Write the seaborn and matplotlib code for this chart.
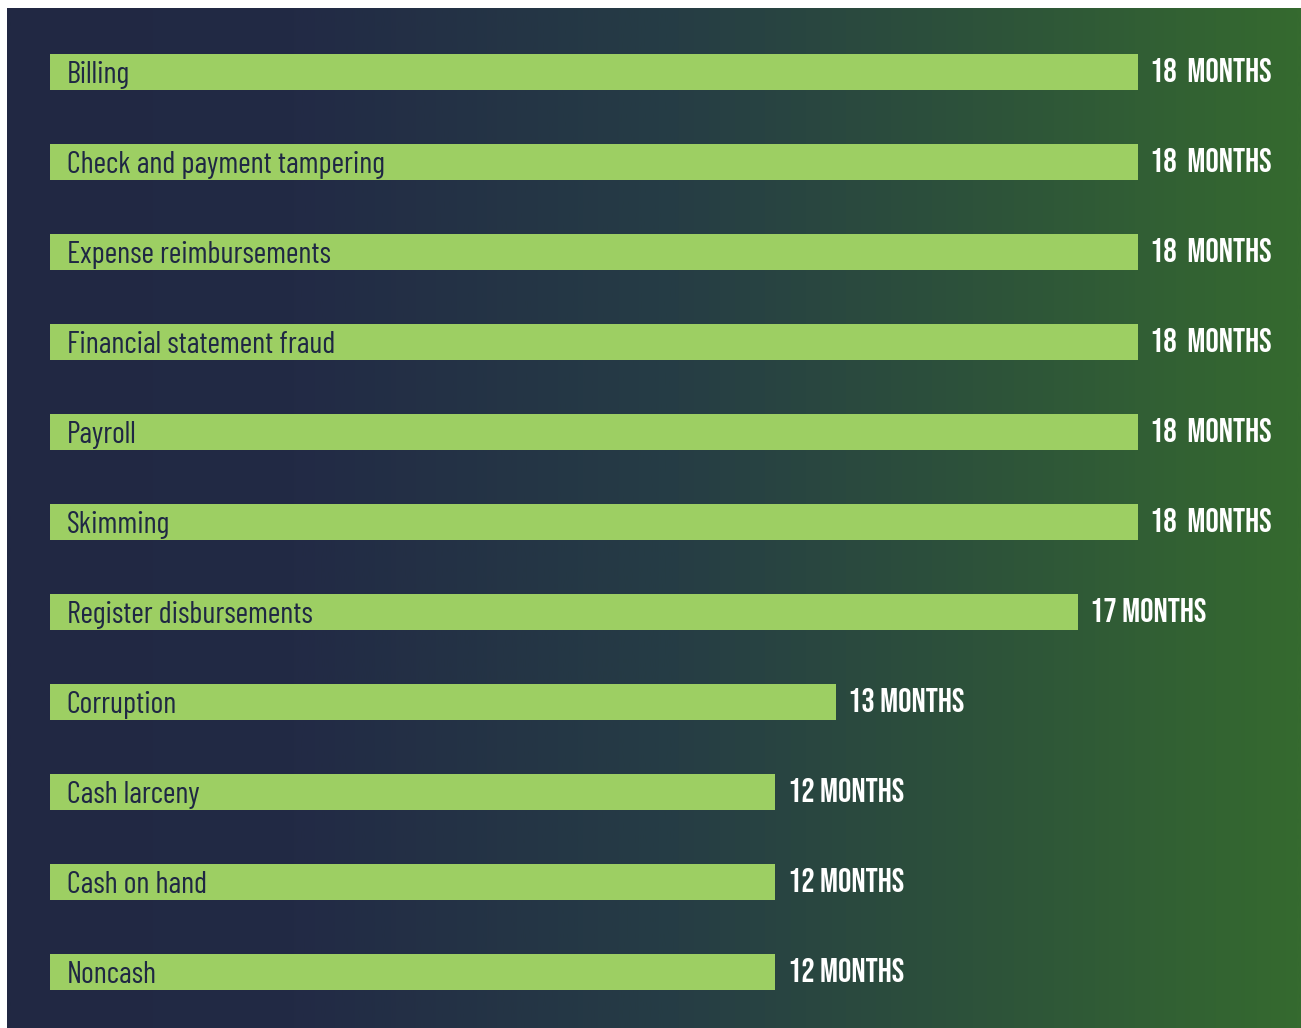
import numpy as np
import pandas as pd
import matplotlib
matplotlib.use("Agg")
import matplotlib.pyplot as plt
import seaborn as sns
from matplotlib.colors import LinearSegmentedColormap

categories = ["Billing", "Check and payment tampering", "Expense reimbursements",
              "Financial statement fraud", "Payroll", "Skimming",
              "Register disbursements", "Corruption", "Cash larceny",
              "Cash on hand", "Noncash"]
months = [18, 18, 18, 18, 18, 18, 17, 13, 12, 12, 12]
value_labels = ["18  MONTHS", "18  MONTHS", "18  MONTHS", "18  MONTHS", "18  MONTHS",
                "18  MONTHS", "17 MONTHS", "13 MONTHS", "12 MONTHS", "12 MONTHS",
                "12 MONTHS"]

df = pd.DataFrame({"category": categories, "months": months})

sns.set_theme(style="white")
W, H = 1301, 1028
fig = plt.figure(figsize=(W / 100, H / 100), dpi=100)
fig.patch.set_facecolor("white")

# gradient background
bg = fig.add_axes([7 / W, 0, (W - 7) / W, (H - 8) / H])
cmap = LinearSegmentedColormap.from_list(
    "bg", [(0.0, "#212843"), (0.22, "#222a45"), (0.52, "#263d45"),
           (0.78, "#2e5539"), (1.0, "#356a2f")])
grad = np.linspace(0, 1, 512)[None, :]
bg.imshow(grad, aspect="auto", cmap=cmap, extent=[0, 1, 0, 1])
bg.set_axis_off()

ax = fig.add_axes([50 / W, 11 / H, 1088 / W, 990 / H])
ax.patch.set_alpha(0)
sns.barplot(data=df, y="category", x="months", orient="h", color="#9dcf63",
            saturation=1, width=0.4, linewidth=0, edgecolor="none", ax=ax)
ax.set_xlim(0, 18)
ax.set_axis_off()

label_font = ["Barlow Condensed", "DejaVu Sans"]
value_font = ["Bebas Neue", "Barlow Condensed", "DejaVu Sans"]
for i, (cat, v, lab) in enumerate(zip(categories, months, value_labels)):
    ax.annotate(cat, xy=(0, i), xytext=(12, -2), textcoords="offset points",
                ha="left", va="center", color="#1f2744", fontsize=22,
                family=label_font, annotation_clip=False)
    ax.annotate(lab, xy=(v, i), xytext=(9, 1.5), textcoords="offset points",
                ha="left", va="center", color="white", fontsize=24,
                family=value_font, annotation_clip=False)

fig.savefig("out.png", dpi=100)
